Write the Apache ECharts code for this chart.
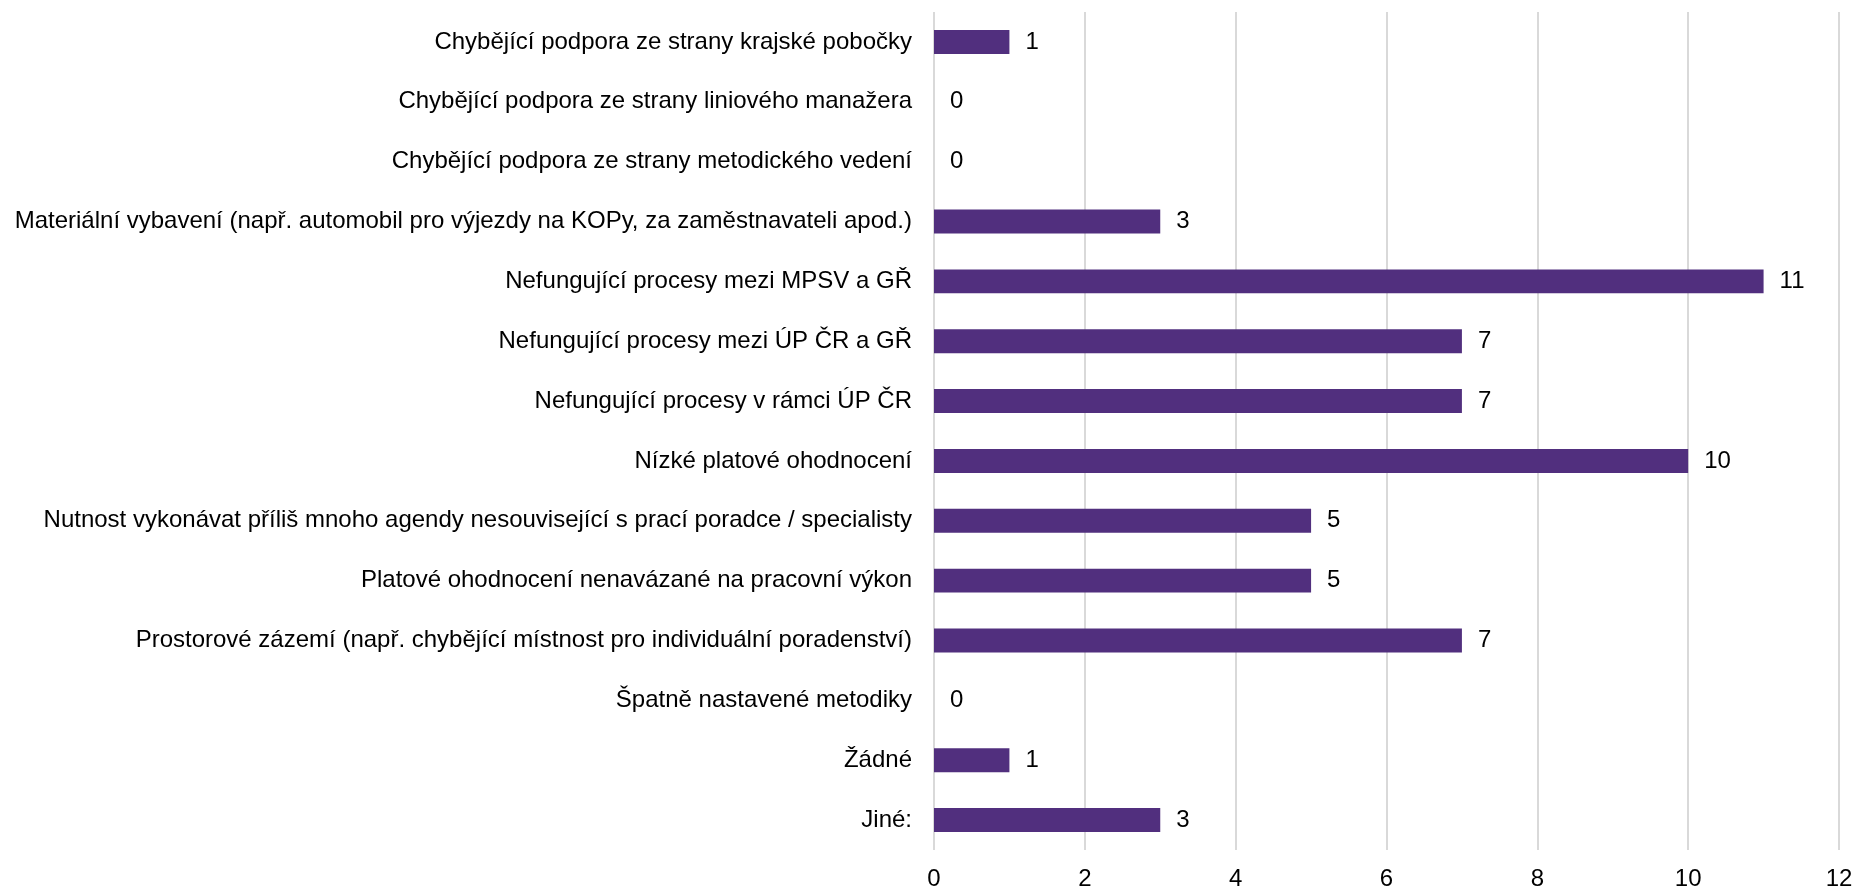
<!DOCTYPE html>
<html>
<head>
<meta charset="utf-8">
<script src="https://cdn.jsdelivr.net/npm/echarts@6/dist/echarts.min.js"></script>
<style>
html,body{margin:0;padding:0;background:#fff;}
#chart{width:1858px;height:891px;}
</style>
</head>
<body>
<div id="chart"></div>
<script>
const categories = [
  "Chybějící podpora ze strany krajské pobočky",
  "Chybějící podpora ze strany liniového manažera",
  "Chybějící podpora ze strany metodického vedení",
  "Materiální vybavení (např. automobil pro výjezdy na KOPy, za zaměstnavateli apod.)",
  "Nefungující procesy mezi MPSV a GŘ",
  "Nefungující procesy mezi ÚP ČR a GŘ",
  "Nefungující procesy v rámci ÚP ČR",
  "Nízké platové ohodnocení",
  "Nutnost vykonávat příliš mnoho agendy nesouvisející s prací poradce / specialisty",
  "Platové ohodnocení nenavázané na pracovní výkon",
  "Prostorové zázemí (např. chybějící místnost pro individuální poradenství)",
  "Špatně nastavené metodiky",
  "Žádné",
  "Jiné:"
];
const values = [1, 0, 0, 3, 11, 7, 7, 10, 5, 5, 7, 0, 1, 3];
const xTicks = { min: 0, max: 12, interval: 2 };

const chart = echarts.init(document.getElementById('chart'), null, {renderer: 'canvas'});
const font = '"Liberation Sans", Arial, sans-serif';
chart.setOption({
  animation: false,
  grid: { left: 934, right: 19, top: 12, bottom: 41, containLabel: false },
  xAxis: {
    type: 'value',
    min: xTicks.min, max: xTicks.max, interval: xTicks.interval,
    axisLine: { show: false },
    axisTick: { show: false },
    splitLine: { show: true, lineStyle: { color: '#D9D9D9', width: 2 } },
    axisLabel: { color: '#000', fontSize: 24, fontFamily: font, margin: 17 }
  },
  yAxis: {
    type: 'category',
    data: categories,
    inverse: true,
    axisLine: { show: false },
    axisTick: { show: false },
    axisLabel: { color: '#000', fontSize: 24, fontFamily: font, margin: 22 }
  },
  series: [{
    type: 'bar',
    data: values,
    barWidth: '40%',
    itemStyle: { color: '#512F7E' },
    label: {
      show: true, position: 'right', distance: 16,
      color: '#000', fontSize: 24, fontFamily: font
    }
  }]
});
</script>
</body>
</html>
